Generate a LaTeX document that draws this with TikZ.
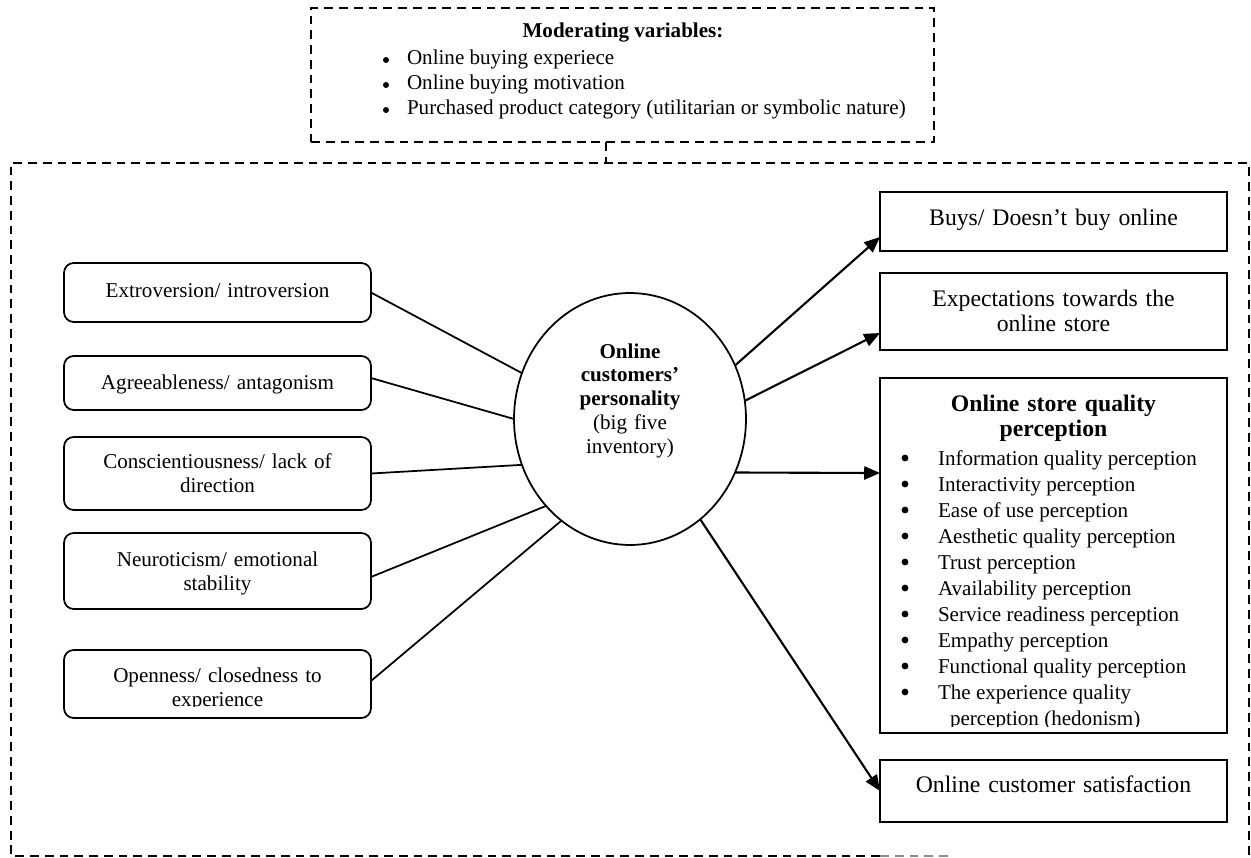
\documentclass[tikz,border=0pt]{standalone}
\usepackage{fontspec}
\setmainfont{Liberation Serif}
\usetikzlibrary{arrows.meta,shapes.geometric,calc}
\begin{document}
\begin{tikzpicture}[x=0.02cm,y=-0.02cm,
  every node/.style={inner sep=0pt, outer sep=0pt},
  fs/.style={font=\fontsize{12}{14.2}\selectfont},
  fsq/.style={font=\fontsize{12}{14.7}\selectfont},
  fsr/.style={font=\fontsize{13.5}{14.7}\selectfont},
  dot/.style={circle, fill, minimum size=3.4pt},
  bigdot/.style={circle, fill, minimum size=3.9pt},
  dashline/.style={line width=1.2pt, dash pattern=on 5pt off 3.4pt},
  lbox/.style={draw, line width=1pt, rounded corners=5.5pt, minimum width=6.14cm},
  rbox/.style={draw, line width=1pt, minimum width=6.94cm},
  ctext/.style={align=center, text width=6cm, anchor=base},
  conn/.style={line width=1pt},
  arr/.style={line width=1.2pt, -{Triangle[length=9pt,width=7.5pt]}},
]
\useasboundingbox (0,0) rectangle (1251,858);

% moderating variables box
\node[draw, dashline, minimum width=12.46cm, minimum height=2.68cm] (mod) at (622.5,75) {};
\node[font=\fontsize{12}{14.2}\selectfont\bfseries, anchor=base] (modt) at (623,38) {Moderating variables:};
\foreach \t [count=\i] in {Online buying experiece, Online buying motivation, Purchased product category (utilitarian or symbolic nature)} {
  \node[dot] (mb\i) at (386,35+25*\i) {};
  \node[fs, anchor=base west] (mi\i) at (407,40+25*\i) {\t};
}

% outer frame
\coordinate (frametop) at (606,163);
\draw[dashline] (880,856) -- (11,856) -- (11,163) -- (1249,163) -- (1249,858);
\draw[dashline, black!45] (880,856) -- (950,856);
\draw[dashline] (mod.south -| frametop) -- (frametop);

% left boxes
\node[lbox, minimum height=1.18cm] (b1) at (217.5,292.5) {};
\node[lbox, minimum height=1.08cm] (b2) at (217.5,383) {};
\node[lbox, minimum height=1.46cm] (b3) at (217.5,473.5) {};
\node[lbox, minimum height=1.52cm] (b4) at (217.5,571) {};
\node[lbox, minimum height=1.36cm] (b5) at (217.5,684) {};
\node[fs, ctext] (t1) at (217.5,297) {Extroversion/ introversion};
\node[fs, ctext] (t2) at (217.5,389) {Agreeableness/ antagonism};
\node[fs, ctext] (t3) at (217.5,468) {Conscientiousness/ lack of\\direction};
\node[fs, ctext] (t4) at (217.5,566) {Neuroticism/ emotional\\stability};
\begin{scope}
  \clip (64,650) rectangle (371,706);
  \node[fs, ctext] (t5) at (217.5,682) {Openness/ closedness to\\experience};
\end{scope}

% central ellipse
\node[draw, ellipse, line width=1pt, minimum width=4.64cm, minimum height=5.04cm] (circ) at (630,419) {};
\node[font=\fontsize{12}{13.6}\selectfont, align=center, text width=3.5cm, anchor=base] (circt) at (630,358)
  {\textbf{Online}\\\textbf{customers’}\\\textbf{personality}\\(big five\\inventory)};

% connectors left
\draw[conn] (b1.east) -- (circ.157);
\draw[conn] ([yshift=0.1cm]b2.east) -- (circ.180);
\draw[conn] (b3.east) -- (circ.203);
\draw[conn] ([yshift=-0.12cm]b4.east) -- (circ.226);
\draw[conn] ([yshift=0.06cm]b5.east) -- (circ.236);

% right boxes
\node[rbox, minimum height=1.18cm] (buys) at (1053.5,221.5) {};
\node[rbox, minimum height=1.54cm] (expc) at (1053.5,311.5) {};
\node[rbox, minimum height=7.10cm] (qual) at (1053.5,555.5) {};
\node[rbox, minimum height=1.24cm] (sat) at (1053.5,791) {};
\node[fsr, ctext] (buyst) at (1053.5,226) {Buys/ Doesn’t buy online};
\node[fsr, ctext] (expct) at (1053.5,306) {Expectations towards the\\online store};
\node[fsr, ctext] (satt) at (1053.5,792) {Online customer satisfaction};
\node[font=\fontsize{13.5}{14.7}\selectfont\bfseries, ctext] (qualt) at (1053.5,411) {Online store quality\\perception};
\foreach \t [count=\i] in {Information quality perception, Interactivity perception, Ease of use perception, Aesthetic quality perception, Trust perception, Availability perception, Service readiness perception, Empathy perception, Functional quality perception, The experience quality} {
  \node[bigdot] (qb\i) at (905,458+26*\i-26) {};
  \node[fsq, anchor=base west] (qi\i) at (938,465+26*\i-26) {\t};
}
\begin{scope}
  \clip (880,700) rectangle (1227,726);
  \node[fsq, anchor=base west] (qi11) at (950,725) {perception (hedonism)};
\end{scope}

% arrows
\draw[arr] (circ.27) -- ([yshift=-0.31cm]buys.west);
\draw[arr] (circ.9) -- ([yshift=-0.43cm]expc.west);
\draw[arr] (circ.-27) -- ([yshift=1.65cm]qual.west);
\draw[arr] (circ.-55) -- (sat.west);
\end{tikzpicture}
\end{document}
